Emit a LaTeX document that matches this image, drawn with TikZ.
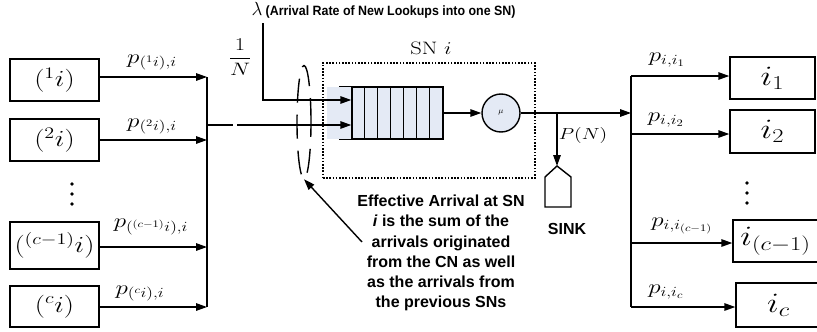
\RequirePackage{fix-cm}
\documentclass[tikz,border=0pt]{standalone}
\usepackage{fontspec}
\setsansfont{Liberation Sans}
\usepackage{graphicx}
\usetikzlibrary{arrows.meta,shapes.geometric}
\definecolor{qblue}{RGB}{228,234,245}
\newcommand{\mlab}[2]{\scalebox{1.25}[1]{\fontsize{#1}{#1}\selectfont$#2$}}
\begin{document}
\begin{tikzpicture}[x=1pt,y=-1pt, line width=1.4pt,
  box/.style={draw, line width=1.4pt, inner sep=0pt, minimum width=89pt},
  rbox/.style={draw, line width=1.4pt, inner sep=0pt, minimum width=85pt},
  arr/.style={-{Triangle[length=11pt,width=7.5pt]}, line width=1.4pt},
  bold/.style={font=\fontsize{16}{20.2}\selectfont\sffamily\bfseries, align=center, inner sep=0pt}]
\useasboundingbox (0,0) rectangle (817,332);

% left boxes
\node[box, minimum height=42pt] (L1) at (54.5,80) {\mlab{23}{({}^1 i)}};
\node[box, minimum height=42pt] (L2) at (54.5,140) {\mlab{23}{({}^2 i)}};
\node[box, minimum height=47pt] (L3) at (54.5,245.5) {\mlab{23}{({}^{(c-1)} i)}};
\node[box, minimum height=41pt] (L4) at (54.5,306.5) {\mlab{23}{({}^c i)}};
\foreach \yy in {184,194,204} \fill (72,\yy) circle (1.8pt);

\coordinate (a1) at (207,77);
\coordinate (a2) at (207,140);
\coordinate (a3) at (207,247);
\coordinate (a4) at (207,307);
\coordinate (am) at (207,125);
\draw[arr] (L1.east |- a1) -- (a1);
\draw[arr] (L2.east |- a2) -- (a2);
\draw[arr] (L3.east |- a3) -- (a3);
\draw[arr] (L4.east |- a4) -- (a4);
\draw (a1) -- (a4);
\node (pl1) at (152,62.5) {\mlab{20}{p_{({}^1 i),i}}};
\node (pl2) at (152,126.5) {\mlab{20}{p_{({}^2 i),i}}};
\node (pl3) at (151,227) {\mlab{20}{p_{({}^{(c-1)} i),i}}};
\node (pl4) at (140,293.5) {\mlab{20}{p_{({}^c i),i}}};

% SN box
\node[draw, dash pattern=on 1.6pt off 1.6pt, line width=1.3pt, minimum width=212pt, minimum height=115pt, inner sep=0pt] (SN) at (429,120.5) {};
\node (snlab) at (431,48) {\mlab{18}{\mathrm{SN}\ i}};

% queue
\fill[qblue] (327,87) rectangle (352,139);
\node[draw, fill=qblue, minimum width=91pt, minimum height=52pt, inner sep=0pt] (Q) at (397.5,113) {};
\foreach \i in {1,...,6} \draw ([xshift=\i*13pt]Q.north west) -- ([xshift=\i*13pt]Q.south west);
\draw[line width=0.8pt] (Q.north west) -- ++(-12,0);
\draw[line width=0.8pt] (Q.south west) -- ++(-12,0);
\coordinate (q1) at ([yshift=13pt]Q.west);
\coordinate (q2) at ([yshift=-12pt]Q.west);

\node[circle, draw, fill=qblue, minimum size=38pt, inner sep=0pt] (S) at (501,113) {\fontsize{8}{8}\selectfont$\mu$};
\draw[arr] (Q.east) -- (S.west);

% lambda input
\node[anchor=base west, inner sep=0pt] (title) at (251,16) {\fontsize{19}{19}\selectfont$\lambda$\,\scalebox{0.92}[1]{\fontsize{13.5}{15}\selectfont\sffamily\bfseries(Arrival Rate of New Lookups into one SN)}};
\coordinate (lamtop) at (263,23);
\draw[arr] (lamtop) |- (q1);
\node (frac) at (240,57) {\mlab{18}{\displaystyle\frac{1}{N}}};

% main input
\draw[arr, dash pattern=on 26pt off 4pt on 300pt off 0pt] (am) -- (q2);

% ellipse
\node[ellipse, draw, dash pattern=on 24pt off 12pt, line width=1.4pt, minimum width=14pt, minimum height=113pt, inner sep=0pt] (ell) at (304,122) {};
\node[bold] (eff) at (441,253) {Effective Arrival at SN\\\textit{i} is the sum of the\\arrivals originated\\from the CN as well\\as the arrivals from\\the previous SNs};
\coordinate (effa) at (362,242);
\draw[arr] (effa) -- (ell.south);

% output
\coordinate (b0) at (631,113);
\draw[arr] (S.east) -- (b0);
\coordinate (sk) at (557,113);
\coordinate (sinktop) at (557,166);
\draw[arr] (sk) -- (sinktop);
\draw (sinktop) -- (571,177) -- (571,207) -- (545,207) -- (545,177) -- cycle;
\node (pn) at (583,135) {\mlab{16}{P(N)}};
\node[bold] (sink) at (567,229) {SINK};

% right side
\node[rbox, minimum height=42pt] (R1) at (772.5,78) {\mlab{28}{i_1}};
\node[rbox, minimum height=43pt] (R2) at (772.5,131.5) {\mlab{28}{i_2}};
\node[rbox, minimum height=42pt] (R3) at (775.5,241) {\mlab{28}{i_{(c-1)}}};
\node[rbox, minimum height=44pt] (R4) at (778.5,305) {\mlab{28}{i_c}};
\foreach \yy in {183,193,203} \fill (747,\yy) circle (1.8pt);
\coordinate (b1) at (631,76);
\coordinate (b2) at (631,134);
\coordinate (b3) at (631,243);
\coordinate (b4) at (631,307);
\draw (b1) -- (b4);
\draw[arr] (b1) -- (R1.west |- b1);
\draw[arr] (b2) -- (R2.west |- b2);
\draw[arr] (b3) -- (R3.west |- b3);
\draw[arr] (b4) -- (R4.west |- b4);
\node (pr1) at (667,60) {\mlab{20}{p_{i,i_1}}};
\node (pr2) at (666,120) {\mlab{20}{p_{i,i_2}}};
\node (pr3) at (682,226) {\mlab{20}{p_{i,i_{(c-1)}}}};
\node (pr4) at (666,292) {\mlab{20}{p_{i,i_c}}};
\end{tikzpicture}
\end{document}
